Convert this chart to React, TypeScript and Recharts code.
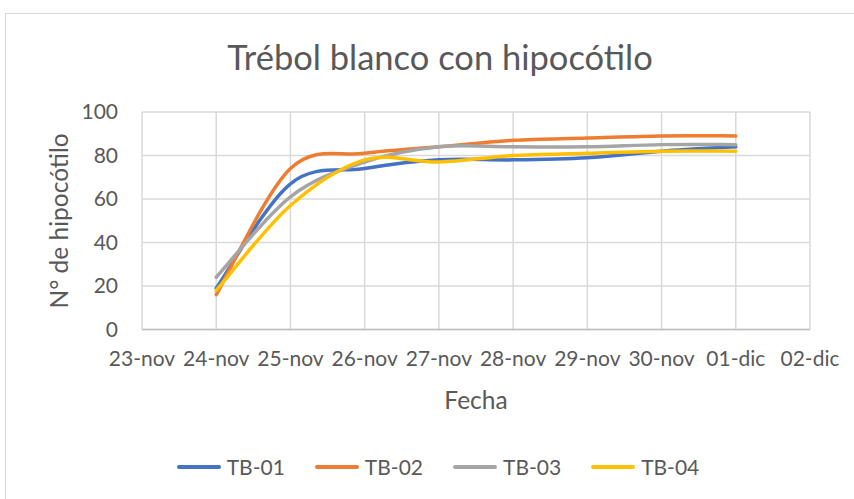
import React from 'react';
import { LineChart, Line, XAxis, YAxis, CartesianGrid } from 'recharts';

const dayLabels = ['23-nov', '24-nov', '25-nov', '26-nov', '27-nov', '28-nov', '29-nov', '30-nov', '01-dic', '02-dic'];
const days = [1, 2, 3, 4, 5, 6, 7, 8];
const tb01 = [19, 67, 74, 78, 78, 79, 82, 84];
const tb02 = [16, 74, 81, 84, 87, 88, 89, 89];
const tb03 = [24, 61, 77, 84, 84, 84, 85, 85];
const tb04 = [18, 57, 78, 77, 80, 81, 82, 82];
const yTicks = [0, 20, 40, 60, 80, 100];
const xTicks = [0, 1, 2, 3, 4, 5, 6, 7, 8, 9];

const seriesNames = ['TB-01', 'TB-02', 'TB-03', 'TB-04'];
const seriesColors = ['#4472C4', '#ED7D31', '#A5A5A5', '#FFC000'];

const data = days.map((d, i) => ({
  x: d,
  'TB-01': tb01[i],
  'TB-02': tb02[i],
  'TB-03': tb03[i],
  'TB-04': tb04[i],
}));

// Excel-like smoothing (Catmull-Rom as cubic Bezier)
function excelCurve(context: any) {
  let pts: number[][] = [];
  return {
    areaStart() {},
    areaEnd() {},
    lineStart() {
      pts = [];
    },
    lineEnd() {
      if (!pts.length) return;
      context.moveTo(pts[0][0], pts[0][1]);
      for (let i = 0; i < pts.length - 1; i++) {
        const p0 = pts[i - 1] || pts[i];
        const p1 = pts[i];
        const p2 = pts[i + 1];
        const p3 = pts[i + 2] || p2;
        context.bezierCurveTo(
          p1[0] + (p2[0] - p0[0]) / 6,
          p1[1] + (p2[1] - p0[1]) / 6,
          p2[0] - (p3[0] - p1[0]) / 6,
          p2[1] - (p3[1] - p1[1]) / 6,
          p2[0],
          p2[1]
        );
      }
    },
    point(x: number, y: number) {
      pts.push([+x, +y]);
    },
  };
}

const FONT = 'Lato, "Open Sans", sans-serif';
const TXT = '#595959';

export default function App() {
  return (
    <div style={{ position: 'absolute', left: 0, top: 0, width: 854, height: 499, background: '#fff', overflow: 'hidden', fontFamily: FONT }}>
      <div style={{ position: 'absolute', left: 5, top: 13, width: 900, height: 600, border: '1px solid #d9d9d9', boxSizing: 'border-box' }} />
      <div style={{ position: 'absolute', left: 0, width: 880, top: 36, textAlign: 'center', fontSize: 34.5, color: TXT, lineHeight: '42px' }}>
        Trébol blanco con hipocótilo
      </div>
      <div style={{ position: 'absolute', left: 0, top: 0 }}>
        <LineChart width={854} height={499} data={data} margin={{ top: 112, right: 44, bottom: 129.5, left: 82 }}>
          <CartesianGrid stroke="#d9d9d9" strokeWidth={1.5} />
          <XAxis
            dataKey="x"
            type="number"
            domain={[0, 9]}
            ticks={xTicks}
            interval={0}
            tickFormatter={(v: number) => dayLabels[v]}
            tickLine={false}
            axisLine={{ stroke: '#bfbfbf', strokeWidth: 1.5 }}
            tick={{ fill: TXT, fontSize: 21, fontFamily: FONT }}
            tickSize={0}
            tickMargin={22}
            height={40}
          />
          <YAxis
            type="number"
            domain={[0, 100]}
            ticks={yTicks}
            interval={0}
            tickLine={false}
            axisLine={false}
            tick={{ fill: TXT, fontSize: 21, fontFamily: FONT }}
            tickSize={0}
            tickMargin={24}
            width={60}
          />
          {seriesNames.map((n, i) => (
            <Line
              key={n}
              dataKey={n}
              type={excelCurve as any}
              stroke={seriesColors[i]}
              strokeWidth={3.5}
              strokeLinecap="round"
              dot={false}
              isAnimationActive={false}
            />
          ))}
        </LineChart>
      </div>
      <div style={{ position: 'absolute', left: 59, top: 221, width: 0, height: 0 }}>
        <div style={{ position: 'absolute', transform: 'translate(-50%, -50%) rotate(-90deg)', whiteSpace: 'nowrap', fontSize: 24.5, color: TXT, lineHeight: '30px' }}>
          N° de hipocótilo
        </div>
      </div>
      <div style={{ position: 'absolute', left: 142, width: 668, top: 385, textAlign: 'center', fontSize: 24.5, color: TXT, lineHeight: '30px' }}>
        Fecha
      </div>
      <div style={{ position: 'absolute', left: 0, width: 906, top: 454, display: 'flex', justifyContent: 'center', fontSize: 21, color: TXT, lineHeight: '26px' }}>
        {seriesNames.map((n, i) => (
          <div key={n} style={{ display: 'flex', alignItems: 'center', marginRight: 30 }}>
            <div style={{ width: 44, height: 4, borderRadius: 2, background: seriesColors[i], marginRight: 6 }} />
            <span>{n}</span>
          </div>
        ))}
      </div>
    </div>
  );
}
